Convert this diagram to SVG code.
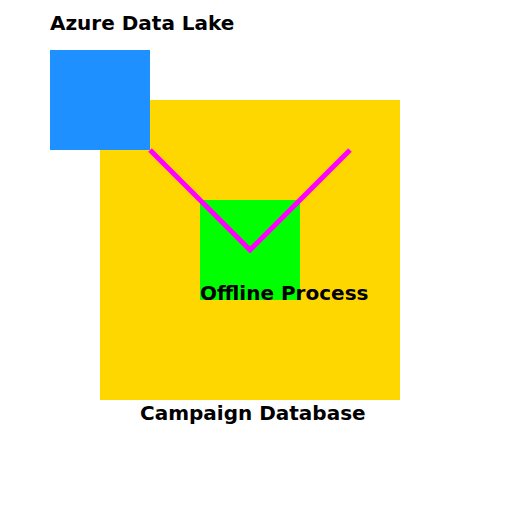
<svg xmlns="http://www.w3.org/2000/svg" width="512" height="512" viewBox="0 0 512 512">
<style>
.lbl{font-family:"DejaVu Sans",sans-serif;font-weight:bold;font-size:20px;fill:#000}
.conn{fill:none;stroke:#FF00FF;stroke-width:5}
</style>
<rect width="512" height="512" fill="#fff"/>
<g id="campaign-database">
<rect x="100" y="100" width="300" height="300" fill="#FFD700"/>
<text class="lbl" x="140" y="420">Campaign Database</text>
</g>
<g id="azure-data-lake">
<rect x="50" y="50" width="100" height="100" fill="#1E90FF"/>
<text class="lbl" x="50" y="30">Azure Data Lake</text>
</g>
<g id="offline-process">
<rect x="200" y="200" width="100" height="100" fill="#00FF00"/>
</g>
<g id="connectors">
<polyline class="conn" points="150,150 250,250 350,150"/>
</g>
<text class="lbl" x="200" y="300">Offline Process</text>
</svg>
